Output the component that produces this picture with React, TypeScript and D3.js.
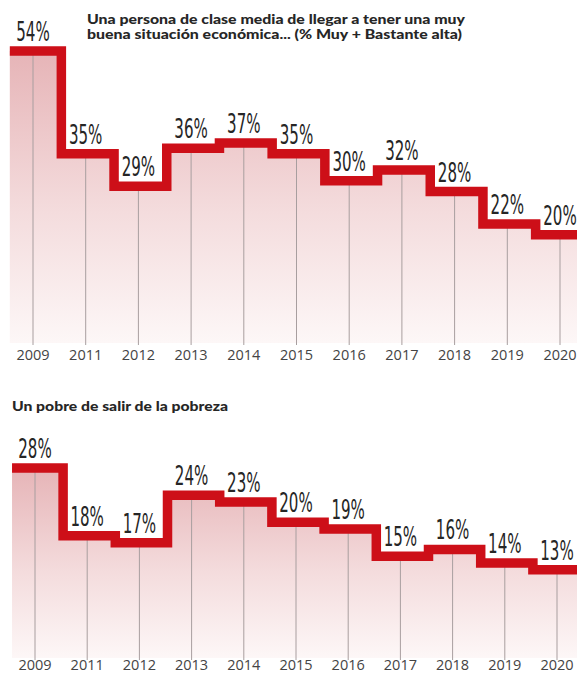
import React from "react";
import * as d3 from "d3";

const years = ["2009", "2011", "2012", "2013", "2014", "2015", "2016", "2017", "2018", "2019", "2020"];
const claseMedia = [54, 35, 29, 36, 37, 35, 30, 32, 28, 22, 20];
const pobre = [28, 18, 17, 24, 23, 20, 19, 15, 16, 14, 13];
const title1Lines = [
  "Una persona de clase media de llegar a tener una muy",
  "buena situación económica... (% Muy + Bastante alta)",
];
const title2 = "Un pobre de salir de la pobreza";

const W = 577;
const H = 673;
const RED = "#cd0f18";

type PanelProps = {
  id: string;
  values: number[];
  xRange: [number, number];
  yRange: [number, number]; // [baseline y, y at max]
  yearBaseline: number;
};

function Panel({ id, values, xRange, yRange, yearBaseline }: PanelProps) {
  const x = d3.scalePoint<string>().domain(years).range(xRange);
  const maxV = d3.max(values) as number;
  const y = d3.scaleLinear().domain([0, maxV]).range(yRange);
  const step = x.step();
  const pts: [number, number][] = values.map((v, i) => {
    const cx = x(years[i]) as number;
    const start = i === 0 ? cx - step * 0.44 : ((x(years[i - 1]) as number) + cx) / 2 + 2;
    return [start, y(v)];
  });
  const lastX = (x(years[years.length - 1]) as number) + step / 2 + 4;
  pts.push([lastX, y(values[values.length - 1])]);

  const line = d3.line<[number, number]>().x((d) => d[0]).y((d) => d[1]).curve(d3.curveStepAfter);
  const area = d3
    .area<[number, number]>()
    .x((d) => d[0])
    .y0(yRange[0])
    .y1((d) => d[1])
    .curve(d3.curveStepAfter);

  return (
    <g>
      <defs>
        <linearGradient id={`grad-${id}`} gradientUnits="userSpaceOnUse" x1="0" x2="0" y1={yRange[1]} y2={yRange[0]}>
          <stop offset="0" stopColor="#e6b4b7" />
          <stop offset="0.55" stopColor="#f4dcdd" />
          <stop offset="1" stopColor="#fdf7f7" />
        </linearGradient>
      </defs>
      <path d={area(pts) || ""} fill={`url(#grad-${id})`} />
      {years.map((yr, i) => (
        <line
          key={yr}
          x1={x(yr)}
          x2={x(yr)}
          y1={yRange[0] + 2}
          y2={y(values[i])}
          stroke="#a89e9f"
          strokeWidth={1}
        />
      ))}
      <path d={line(pts) || ""} fill="none" stroke={RED} strokeWidth={9.5} strokeLinejoin="miter" />
      {years.map((yr, i) => (
        <text
          key={`l${yr}`}
          transform={`translate(${x(yr)},${y(values[i]) - 10}) scale(0.62,1)`}
          textAnchor="middle"
          fontFamily="'Liberation Sans Narrow', 'DejaVu Sans Condensed', sans-serif"
          fontSize={27}
          fill="#262626"
        >
          {values[i]}%
        </text>
      ))}
      {years.map((yr) => (
        <text
          key={`y${yr}`}
          x={x(yr)}
          y={yearBaseline}
          textAnchor="middle"
          fontFamily="'Open Sans', sans-serif"
          fontSize={14.5}
          fill="#444"
        >
          {yr}
        </text>
      ))}
    </g>
  );
}

export default function App() {
  return (
    <svg
      width={W}
      height={H}
      viewBox={`0 0 ${W} ${H}`}
      style={{ position: "absolute", left: 0, top: 0, background: "#fff" }}
    >
      <rect width={W} height={H} fill="#fff" />
      <Panel id="a" values={claseMedia} xRange={[33, 560]} yRange={[343, 51]} yearBaseline={360} />
      <Panel id="b" values={pobre} xRange={[35, 557]} yRange={[658, 468]} yearBaseline={670} />
      {title1Lines.map((t, i) => (
        <text
          key={t}
          x={87}
          y={24 + i * 15}
          fontFamily="Lato, sans-serif"
          fontWeight={900}
          fontSize={13}
          fill="#262626"
          textLength={i === 0 ? 378 : 375}
          lengthAdjust="spacingAndGlyphs"
        >
          {t}
        </text>
      ))}
      <text
        x={12}
        y={411}
        fontFamily="Lato, sans-serif"
        fontWeight={900}
        fontSize={14}
        fill="#262626"
        textLength={216}
        lengthAdjust="spacingAndGlyphs"
      >
        {title2}
      </text>
    </svg>
  );
}
